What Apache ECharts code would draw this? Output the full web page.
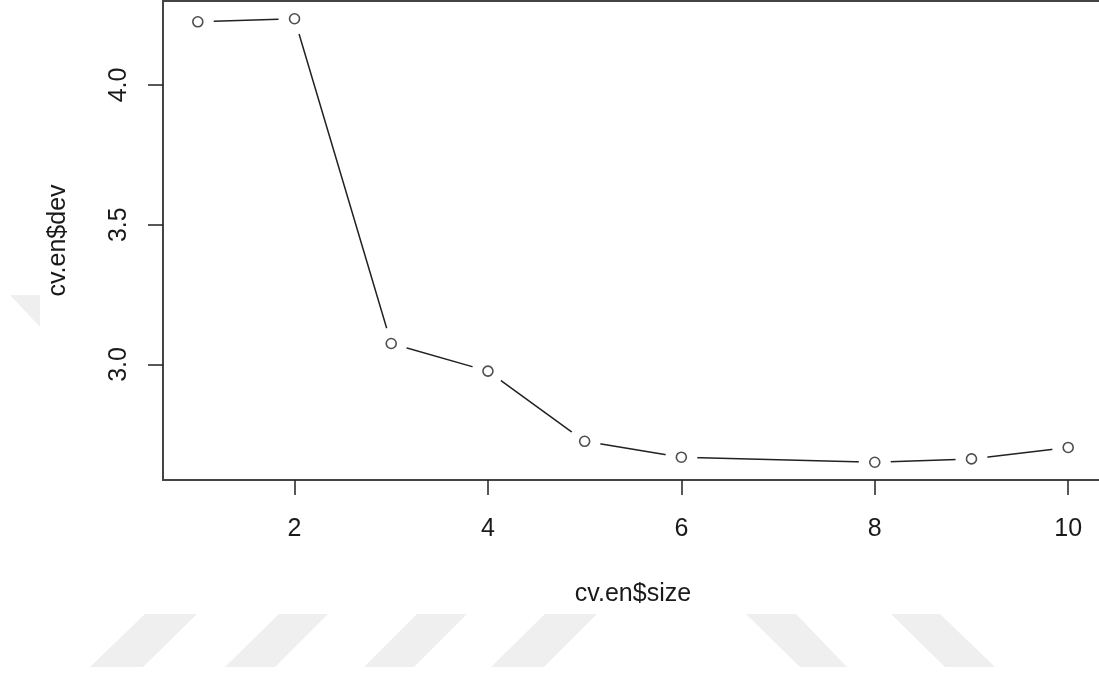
<!DOCTYPE html>
<html>
<head>
<meta charset="utf-8">
<script src="https://cdn.jsdelivr.net/npm/echarts@6/dist/echarts.min.js"></script>
<style>
html,body{margin:0;padding:0;background:#fff;}
#c{width:1099px;height:675px;}
</style>
</head>
<body>
<div id="c"></div>
<script>
// Data
const sizes = [1, 2, 3, 4, 5, 6, 8, 9, 10];
const devs = [4.226, 4.237, 3.075, 2.976, 2.725, 2.668, 2.650, 2.662, 2.703];
const xTicks = [2, 4, 6, 8, 10];
const yTicks = [3.0, 3.5, 4.0];
const xName = 'cv.en$size';
const yName = 'cv.en$dev';

const points = sizes.map((s, i) => [s, devs[i]]);
const FONT = '"Liberation Sans", Arial, sans-serif';
const TXT = '#1a1a1a';
const FRAME = {show: true, lineStyle: {color: '#444', width: 2}};

const chart = echarts.init(document.getElementById('c'), null, {renderer: 'canvas'});
const wm = '#efefef';
const stripes = [
  [[145,614],[197,614],[143,667],[90,667]],
  [[279,614],[328,614],[275,667],[225,667]],
  [[417,614],[467,614],[414,667],[364,667]],
  [[545,614],[597,614],[544,667],[491,667]],
  [[746,614],[796,614],[847,667],[800,667]],
  [[891,614],[940,614],[995,667],[945,667]],
  [[10,295],[40,295],[40,327]]
];
chart.setOption({
  animation: false,
  backgroundColor: '#ffffff',
  graphic: stripes.map(p => ({type: 'polygon', shape: {points: p}, style: {fill: wm}, z: -10, silent: true})),
  grid: {left: 163, top: 1, width: 940, height: 479, outerBoundsMode: 'none', containLabel: false, show: false},
  xAxis: [{
    type: 'value', min: 0.64, max: 10.36, position: 'bottom',
    name: xName, nameLocation: 'middle', nameGap: 102,
    nameTextStyle: {fontFamily: FONT, fontSize: 25, color: TXT},
    axisLine: FRAME,
    axisTick: {show: true, length: 15, customValues: xTicks, lineStyle: {color: '#222', width: 1.5}},
    axisLabel: {customValues: xTicks, margin: 37, fontFamily: FONT, fontSize: 25, color: TXT},
    splitLine: {show: false}
  }, {
    type: 'value', min: 0.64, max: 10.36, position: 'top',
    axisLine: FRAME, axisTick: {show: false}, axisLabel: {show: false}, splitLine: {show: false}
  }],
  yAxis: {
    type: 'value', min: 2.5865, max: 4.3005,
    name: yName, nameLocation: 'middle', nameGap: 92, nameRotate: 90,
    nameTextStyle: {fontFamily: FONT, fontSize: 25, color: TXT},
    axisLine: FRAME,
    axisTick: {show: true, length: 15, customValues: yTicks, lineStyle: {color: '#222', width: 1.5}},
    axisLabel: {customValues: yTicks, rotate: 90, margin: 31, fontFamily: FONT, fontSize: 25, color: TXT,
      formatter: v => Number(v).toFixed(1)},
    splitLine: {show: false}
  },
  series: [
    {
      type: 'line', data: points,
      symbol: 'circle', symbolSize: 32,
      itemStyle: {color: '#ffffff', borderWidth: 0},
      lineStyle: {color: '#222', width: 1.5},
      z: 2
    },
    {
      type: 'scatter', data: points,
      symbol: 'circle', symbolSize: 10,
      itemStyle: {color: '#ffffff', borderColor: '#222', borderWidth: 1.6},
      z: 3
    }
  ]
});
</script>
</body>
</html>
